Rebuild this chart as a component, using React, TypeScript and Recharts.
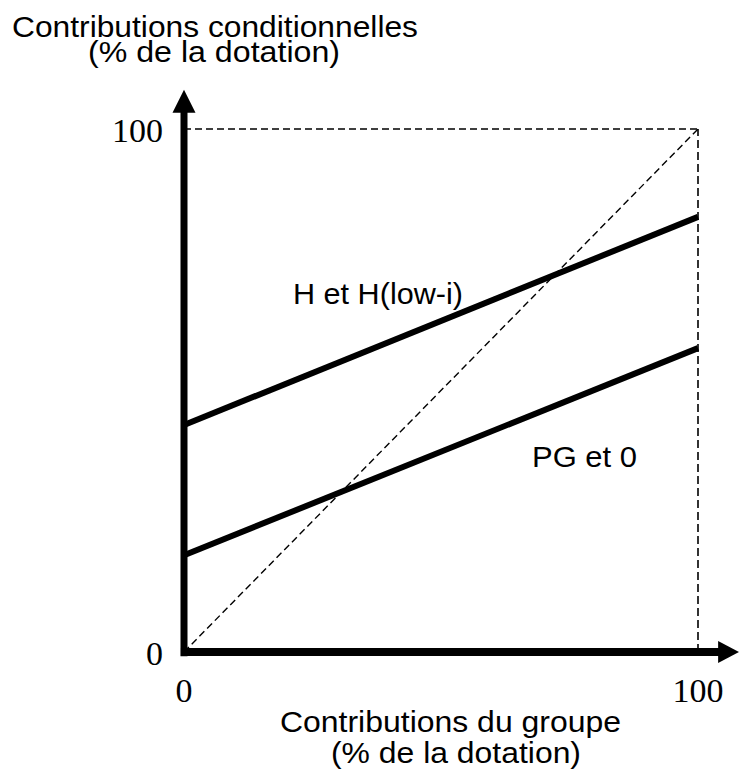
import React from "react";
import {
  LineChart,
  Line,
  XAxis,
  YAxis,
  ReferenceLine,
  ReferenceDot,
  Customized,
} from "recharts";

// group contribution (x) and conditional contribution lines (y), % of endowment
const groupShare = [0, 100];
const hLine = [43.4, 83.2];
const pgLine = [18.5, 58.1];
const diagonal = [0, 100];
const ticks = [0, 100];

const yTitle = ["Contributions conditionnelles", "(% de la dotation)"];
const xTitle = ["Contributions du groupe", "(% de la dotation)"];
const seriesLabels = ["H et H(low-i)", "PG et 0"];

const rows = groupShare.map((x, i) => ({
  x,
  h: hLine[i],
  pg: pgLine[i],
  diag: diagonal[i],
}));

const SANS = "'Liberation Sans', Arial, sans-serif";
const SERIF = "'Liberation Serif', 'Times New Roman', serif";

const txt = (s: string, x: number, y: number, len: number) => (
  <text
    key={s + y}
    x={x}
    y={y}
    fontFamily={SANS}
    fontSize={29}
    fill="#000"
    textLength={len}
    lengthAdjust="spacingAndGlyphs"
  >
    {s}
  </text>
);

function Annotations() {
  return (
    <g>
      {txt(yTitle[0], 12, 37, 406)}
      {txt(yTitle[1], 88, 62, 252)}
      {txt(xTitle[0], 280, 732, 341)}
      {txt(xTitle[1], 331, 763, 250)}
      {txt(seriesLabels[0], 293, 304, 170)}
      {txt(seriesLabels[1], 532, 467, 105)}
    </g>
  );
}

const upArrow = (p: any) => (
  <polygon
    points={`${p.cx},${p.cy} ${p.cx - 11.5},${p.cy + 23} ${p.cx + 11.5},${p.cy + 23}`}
    fill="#000"
  />
);

const rightArrow = (p: any) => (
  <polygon
    points={`${p.cx},${p.cy} ${p.cx - 21},${p.cy - 11} ${p.cx - 21},${p.cy + 11}`}
    fill="#000"
  />
);

export default function App() {
  return (
    <div style={{ position: "absolute", left: 0, top: 0, background: "#fff" }}>
      <LineChart
        width={739}
        height={774}
        data={rows}
        margin={{ top: 129, right: 41, left: 0, bottom: 92 }}
      >
        <XAxis
          type="number"
          dataKey="x"
          domain={[0, 100]}
          ticks={ticks}
          axisLine={false}
          tickLine={false}
          tickMargin={20}
          height={30}
          tick={{ fontSize: 34, fontFamily: SERIF, fill: "#000" }}
        />
        <YAxis
          type="number"
          domain={[0, 100]}
          ticks={ticks}
          axisLine={false}
          tickLine={false}
          width={184}
          tickMargin={15}
          tick={{ fontSize: 34, fontFamily: SERIF, fill: "#000", dy: 1 }}
        />
        <ReferenceLine y={100} stroke="#000" strokeWidth={1.6} strokeDasharray="7 4" />
        <ReferenceLine x={100} stroke="#000" strokeWidth={1.6} strokeDasharray="8 4" />
        <Line
          dataKey="diag"
          stroke="#000"
          strokeWidth={1.4}
          strokeDasharray="7 4"
          dot={false}
          isAnimationActive={false}
        />
        <Line
          dataKey="h"
          stroke="#000"
          strokeWidth={6}
          dot={false}
          isAnimationActive={false}
        />
        <Line
          dataKey="pg"
          stroke="#000"
          strokeWidth={6}
          dot={false}
          isAnimationActive={false}
        />
        <ReferenceLine
          segment={[{ x: 0, y: -0.8 }, { x: 0, y: 103.5 }]}
          stroke="#000"
          strokeWidth={7}
          ifOverflow="visible"
        />
        <ReferenceLine
          segment={[{ x: -0.6, y: 0 }, { x: 104.5, y: 0 }]}
          stroke="#000"
          strokeWidth={8}
          ifOverflow="visible"
        />
        <ReferenceDot x={0} y={107.5} r={1} ifOverflow="visible" shape={upArrow} />
        <ReferenceDot x={108} y={0} r={1} ifOverflow="visible" shape={rightArrow} />
        <Customized component={Annotations} />
      </LineChart>
    </div>
  );
}
